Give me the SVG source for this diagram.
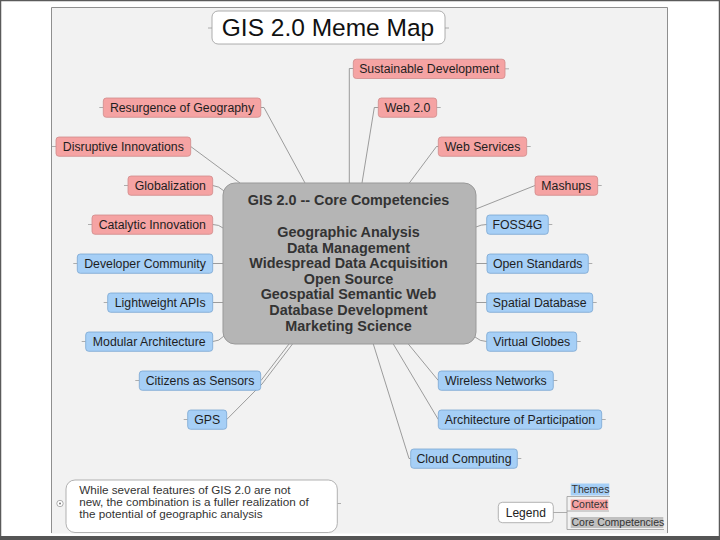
<svg xmlns="http://www.w3.org/2000/svg" width="720" height="540" viewBox="0 0 720 540">
<defs>
<style>
text{font-family:"Liberation Sans",Arial,sans-serif;}
.ctx{fill:#f5a3a3;stroke:#d08a8a;stroke-width:0.8;}
.thm{fill:#a6cff6;stroke:#7aa6d2;stroke-width:0.8;}
.nt{font-size:12.3px;fill:#1e1e1e;text-anchor:middle;}
.ln{fill:none;stroke:#858585;stroke-width:0.8;}
.st{fill:none;stroke:#9a9a9a;stroke-width:0.8;}
.core{font-size:14.4px;font-weight:bold;fill:#333;text-anchor:middle;}
.lg{font-size:10.5px;fill:#333;}
</style>
</defs>
<rect x="0.5" y="0.5" width="719" height="539" fill="#ffffff" stroke="#5a5a5a" stroke-width="1.5"/>
<rect x="0" y="536" width="720" height="4" fill="#555"/>
<rect x="51" y="7.5" width="617" height="526" fill="#f2f2f2"/>
<path d="M51.5 533V7.5H667.5V533" fill="none" stroke="#8f8f8f" stroke-width="1"/>

<g id="title">
<path class="st" d="M208 28H212M445 28H449"/>
<rect x="212" y="11" width="233" height="33" rx="6" fill="#fff" stroke="#9a9a9a" stroke-width="0.8"/>
<text x="328" y="36" font-size="24.5" fill="#111" text-anchor="middle">GIS 2.0 Meme Map</text>
</g>

<g id="connectors">
<path class="ln" d="M349.3 183V68.5H353.3"/>
<path class="ln" d="M362 183L374.3 107.5H378.3"/>
<path class="ln" d="M409.3 183L436.5 146.5H438.3"/>
<path class="ln" d="M260.8 107.5H264L305 183"/>
<path class="ln" d="M190.7 146.5L240 183"/>
<path class="ln" d="M212.7 185.5Q219 186 224 191"/>
<path class="ln" d="M212.7 224.5Q219 224.5 223 228"/>
<path class="ln" d="M212.7 263.5H223"/>
<path class="ln" d="M212.7 302.5H223"/>
<path class="ln" d="M212.7 341.5Q219 341.5 224 336"/>
<path class="ln" d="M289 344L261 380.5"/>
<path class="ln" d="M292.5 344L262 384L226.7 419.5"/>
<path class="ln" d="M476 209L535 185.5"/>
<path class="ln" d="M476 227Q481 224.5 486.7 224.5"/>
<path class="ln" d="M476 263.5H487"/>
<path class="ln" d="M476 302.5H486.7"/>
<path class="ln" d="M475 337Q480 341.5 486.7 341.5"/>
<path class="ln" d="M408.3 344L438.3 380.5"/>
<path class="ln" d="M393.3 344L438.3 419.5"/>
<path class="ln" d="M373.3 344L409 458.5H410.7"/>
</g>

<g id="core">
<rect x="223" y="183" width="253" height="161" rx="12" fill="#b5b5b5" stroke="#999" stroke-width="1"/>
<text class="core" x="348.5" y="205">GIS 2.0 -- Core Competencies</text>
<text class="core" x="348.5" y="237">Geographic Analysis</text>
<text class="core" x="348.5" y="252.6">Data Management</text>
<text class="core" x="348.5" y="268.2">Widespread Data Acquisition</text>
<text class="core" x="348.5" y="283.8">Open Source</text>
<text class="core" x="348.5" y="299.4">Geospatial Semantic Web</text>
<text class="core" x="348.5" y="315">Database Development</text>
<text class="core" x="348.5" y="330.6">Marketing Science</text>
</g>

<g id="sustainable-development">
<path class="st" d="M505 68.8H509"/>
<rect class="ctx" x="353.3" y="59.2" width="151.7" height="19.3" rx="3"/>
<text class="nt" x="429.2" y="73.2">Sustainable Development</text>
</g>
<g id="web-2-0">
<path class="st" d="M436.7 107.5H440.7"/>
<rect class="ctx" x="378.3" y="98" width="58.4" height="19.3" rx="3"/>
<text class="nt" x="407.5" y="112">Web 2.0</text>
</g>
<g id="resurgence-of-geography">
<path class="st" d="M99.3 107.5H103.3"/>
<rect class="ctx" x="103.3" y="98" width="157.5" height="19.3" rx="3"/>
<text class="nt" x="182" y="112">Resurgence of Geography</text>
</g>
<g id="disruptive-innovations">
<path class="st" d="M52 146.5H56"/>
<rect class="ctx" x="56" y="137" width="134.7" height="19.3" rx="3"/>
<text class="nt" x="123.3" y="151">Disruptive Innovations</text>
</g>
<g id="web-services">
<path class="st" d="M526.7 146.5H530.7"/>
<rect class="ctx" x="438.3" y="137" width="88.4" height="19.3" rx="3"/>
<text class="nt" x="482.5" y="151">Web Services</text>
</g>
<g id="globalization">
<path class="st" d="M124 185.5H128"/>
<rect class="ctx" x="128" y="176" width="84.7" height="19.3" rx="3"/>
<text class="nt" x="170.3" y="190">Globalization</text>
</g>
<g id="mashups">
<path class="st" d="M597.7 185.5H601.7"/>
<rect class="ctx" x="535" y="176" width="62.7" height="19.3" rx="3"/>
<text class="nt" x="566.3" y="190">Mashups</text>
</g>
<g id="catalytic-innovation">
<path class="st" d="M88 224.5H92"/>
<rect class="ctx" x="92" y="215" width="120.7" height="19.3" rx="3"/>
<text class="nt" x="152.3" y="229">Catalytic Innovation</text>
</g>

<g id="foss4g">
<path class="st" d="M548.3 224.5H552.3"/>
<rect class="thm" x="486.7" y="215" width="61.6" height="19.3" rx="3"/>
<text class="nt" x="517.5" y="229">FOSS4G</text>
</g>
<g id="developer-community">
<path class="st" d="M73.3 263.5H77.3"/>
<rect class="thm" x="77.3" y="254" width="135.4" height="19.3" rx="3"/>
<text class="nt" x="145" y="268">Developer Community</text>
</g>
<g id="open-standards">
<path class="st" d="M588.3 263.5H592.3"/>
<rect class="thm" x="487" y="254" width="101.3" height="19.3" rx="3"/>
<text class="nt" x="537.7" y="268">Open Standards</text>
</g>
<g id="lightweight-apis">
<path class="st" d="M103.7 302.5H107.7"/>
<rect class="thm" x="107.7" y="293" width="105" height="19.3" rx="3"/>
<text class="nt" x="160.2" y="307">Lightweight APIs</text>
</g>
<g id="spatial-database">
<path class="st" d="M592.7 302.5H596.7"/>
<rect class="thm" x="486.7" y="293" width="106" height="19.3" rx="3"/>
<text class="nt" x="539.7" y="307">Spatial Database</text>
</g>
<g id="modular-architecture">
<path class="st" d="M81.7 341.5H85.7"/>
<rect class="thm" x="85.7" y="332" width="127" height="19.3" rx="3"/>
<text class="nt" x="149.2" y="346">Modular Architecture</text>
</g>
<g id="virtual-globes">
<path class="st" d="M576.7 341.5H580.7"/>
<rect class="thm" x="486.7" y="332" width="90" height="19.3" rx="3"/>
<text class="nt" x="531.7" y="346">Virtual Globes</text>
</g>
<g id="citizens-as-sensors">
<path class="st" d="M135.3 380.5H139.3"/>
<rect class="thm" x="139.3" y="371" width="121.4" height="19.3" rx="3"/>
<text class="nt" x="200" y="385">Citizens as Sensors</text>
</g>
<g id="wireless-networks">
<path class="st" d="M553.3 380.5H557.3"/>
<rect class="thm" x="438.3" y="371" width="115" height="19.3" rx="3"/>
<text class="nt" x="495.8" y="385">Wireless Networks</text>
</g>
<g id="gps">
<path class="st" d="M183.7 419.5H187.7"/>
<rect class="thm" x="187.7" y="410" width="39" height="19.3" rx="3"/>
<text class="nt" x="207.2" y="424">GPS</text>
</g>
<g id="architecture-of-participation">
<path class="st" d="M601.7 419.5H605.7"/>
<rect class="thm" x="438.3" y="410" width="163.4" height="19.3" rx="3"/>
<text class="nt" x="520" y="424">Architecture of Participation</text>
</g>
<g id="cloud-computing">
<path class="st" d="M517.3 458.5H521.3"/>
<rect class="thm" x="410.7" y="449" width="106.6" height="19.3" rx="3"/>
<text class="nt" x="464" y="463">Cloud Computing</text>
</g>

<g id="note">
<circle cx="60" cy="503.5" r="3.2" fill="#fff" stroke="#999" stroke-width="0.8"/>
<circle cx="60" cy="503.5" r="1" fill="#777"/>
<path class="st" d="M337.3 503.5H341"/>
<rect x="66" y="480" width="271.3" height="52.5" rx="9" fill="#fff" stroke="#a0a0a0" stroke-width="0.8"/>
<text x="79.3" y="493.5" font-size="11.7" fill="#333">While several features of GIS 2.0 are not</text>
<text x="79.3" y="505.5" font-size="11.7" fill="#333">new, the combination is a fuller realization of</text>
<text x="79.3" y="517.5" font-size="11.7" fill="#333">the potential of geographic analysis</text>
</g>

<g id="legend">
<rect x="498.3" y="502.3" width="55" height="20.4" rx="4" fill="#fff" stroke="#a0a0a0" stroke-width="0.8"/>
<text x="525.8" y="516.5" font-size="12" fill="#222" text-anchor="middle">Legend</text>
<path class="st" d="M553.3 512.5H567M567 496.5V529.5M567 496.5H610M567 511H609M567 529.5H664"/>
<rect x="570.7" y="483.5" width="38.6" height="12" fill="#a6cff6"/>
<text class="lg" x="571.5" y="493">Themes</text>
<rect x="570.7" y="499.5" width="37.6" height="10.5" fill="#f5a3a3"/>
<text class="lg" x="571.5" y="508">Context</text>
<rect x="570.7" y="517" width="92.6" height="11" fill="#c0c0c0"/>
<text class="lg" x="571.5" y="525.5">Core Competencies</text>
</g>
</svg>
